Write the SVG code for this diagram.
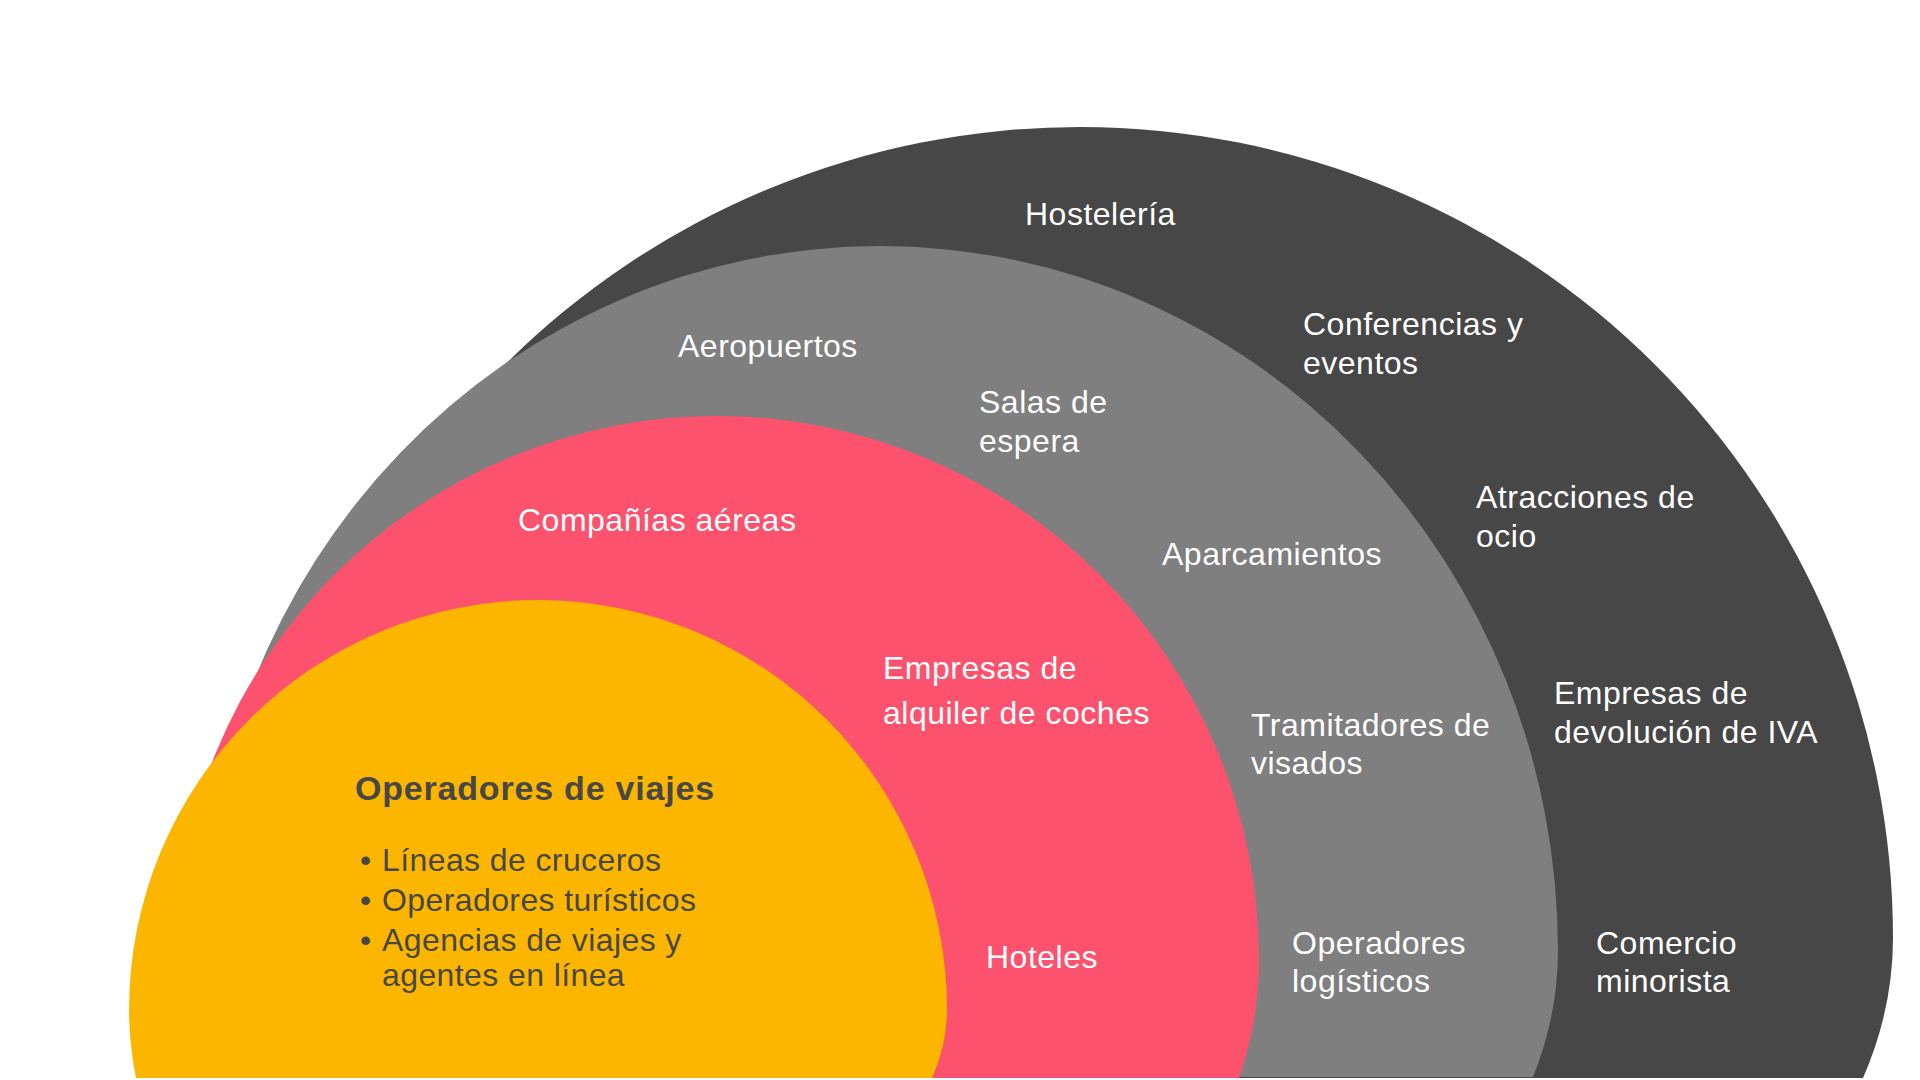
<svg xmlns="http://www.w3.org/2000/svg" width="1920" height="1080" viewBox="0 0 1920 1080">
  <style>
    .lbl { font-family: "Liberation Sans", Arial, Helvetica, sans-serif; font-size: 32px; fill: #ffffff; letter-spacing: 0.5px; }
    .dark { font-family: "Liberation Sans", Arial, Helvetica, sans-serif; font-size: 32px; fill: #474747; letter-spacing: 0.4px; }
    .title { font-family: "Liberation Sans", Arial, Helvetica, sans-serif; font-size: 34px; font-weight: bold; fill: #474747; letter-spacing: 0.8px; }
  </style>
  <rect x="0" y="0" width="1920" height="1080" fill="#ffffff"/>

  <g id="ring-outer">
    <path d="M297,1078 A813,520 0 0 1 267,938 A813,811 0 0 1 1080,127 A813,811 0 0 1 1893,938 A813,520 0 0 1 1863,1078 Z" fill="#474747"/>
    <text class="lbl" x="1025" y="225">Hostelería</text>
    <text class="lbl" x="1303" y="335">Conferencias y</text>
    <text class="lbl" x="1303" y="374">eventos</text>
    <text class="lbl" x="1476" y="508">Atracciones de</text>
    <text class="lbl" x="1476" y="547">ocio</text>
    <text class="lbl" x="1554" y="704">Empresas de</text>
    <text class="lbl" x="1554" y="743">devolución de IVA</text>
    <text class="lbl" x="1596" y="954">Comercio</text>
    <text class="lbl" x="1596" y="992">minorista</text>
  </g>

  <g id="ring-gray">
    <path d="M227,1077 A678,471 0 0 1 202,951 A678,705 0 0 1 880,246 A678,705 0 0 1 1558,951 A678,471 0 0 1 1533,1077 Z" fill="#7f7f7f"/>
    <text class="lbl" x="678" y="357">Aeropuertos</text>
    <text class="lbl" x="979" y="413">Salas de</text>
    <text class="lbl" x="979" y="452">espera</text>
    <text class="lbl" x="1162" y="565">Aparcamientos</text>
    <text class="lbl" x="1251" y="736">Tramitadores de</text>
    <text class="lbl" x="1251" y="774">visados</text>
    <text class="lbl" x="1292" y="954">Operadores</text>
    <text class="lbl" x="1292" y="992">logísticos</text>
  </g>

  <g id="ring-red">
    <path d="M195,1078 A542,438 0 0 1 175,960 A542,544 0 0 1 717,416 A542,544 0 0 1 1259,960 A542,438 0 0 1 1239,1078 Z" fill="#fd526e"/>
    <text class="lbl" x="518" y="531">Compañías aéreas</text>
    <text class="lbl" x="883" y="679">Empresas de</text>
    <text class="lbl" x="883" y="724">alquiler de coches</text>
    <text class="lbl" x="986" y="968">Hoteles</text>
  </g>

  <g id="ring-yellow">
    <path d="M136,1078 A409,380 0 0 1 129,1010 A409,410 0 0 1 538,600 A409,410 0 0 1 947,1010 A409,254 0 0 1 932,1078 Z" fill="#fdb600"/>
    <text class="title" x="355" y="800">Operadores de viajes</text>
    <text class="dark" x="360" y="871">•</text>
    <text class="dark" x="382" y="871">Líneas de cruceros</text>
    <text class="dark" x="360" y="911">•</text>
    <text class="dark" x="382" y="911">Operadores turísticos</text>
    <text class="dark" x="360" y="951">•</text>
    <text class="dark" x="382" y="951">Agencias de viajes y</text>
    <text class="dark" x="382" y="986">agentes en línea</text>
  </g>

  <g id="connectors"></g>
</svg>
